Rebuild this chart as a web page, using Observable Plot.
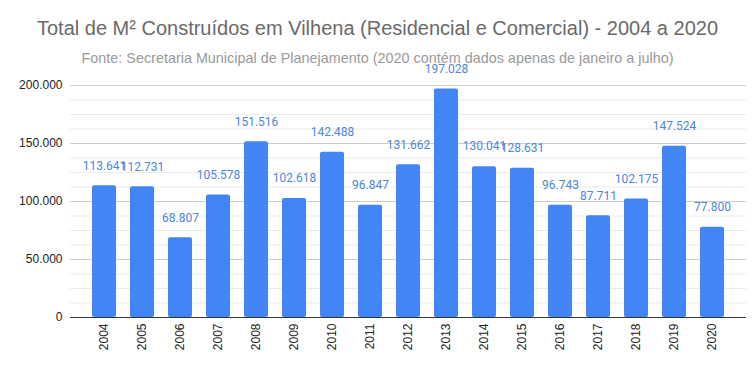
<!DOCTYPE html>
<html>
<head>
<meta charset="utf-8">
<script src="https://cdn.jsdelivr.net/npm/d3@7"></script>
<script src="https://cdn.jsdelivr.net/npm/@observablehq/plot@0.6"></script>
<style>
  html, body { margin: 0; padding: 0; background: #fff; }
  #wrap { position: relative; width: 755px; height: 371px; }
  #title { position: absolute; left: 0; width: 755px; top: 17px; text-align: center;
    font-family: "Liberation Sans", Arial, sans-serif; font-size: 20px; color: #6a6a6a; }
  #subtitle { position: absolute; left: 0; width: 755px; top: 50px; text-align: center;
    font-family: "Liberation Sans", Arial, sans-serif; font-size: 14.4px; color: #9a9a9a; }
  #chart { position: absolute; left: 0; top: 0; }
</style>
</head>
<body>
<div id="wrap">
  <div id="chart"></div>
  <div id="title">Total de M² Construídos em Vilhena (Residencial e Comercial) - 2004 a 2020</div>
  <div id="subtitle">Fonte: Secretaria Municipal de Planejamento (2020 contém dados apenas de janeiro a julho)</div>
</div>
<script>
const years = ["2004","2005","2006","2007","2008","2009","2010","2011","2012","2013","2014","2015","2016","2017","2018","2019","2020"];
const values = [113641, 112731, 68807, 105578, 151516, 102618, 142488, 96847, 131662, 197028, 130041, 128631, 96743, 87711, 102175, 147524, 77800];
const majorTicks = [0, 50000, 100000, 150000, 200000];
const minorTicks = [12500, 25000, 37500, 62500, 75000, 87500, 112500, 125000, 137500, 162500, 175000, 187500];

const data = years.map((y, i) => ({year: y, value: values[i]}));
const fmt = v => d3.format(",")(v).replace(/,/g, ".");

const chart = Plot.plot({
  width: 755,
  height: 371,
  marginTop: 85,
  marginBottom: 54,
  marginLeft: 70,
  marginRight: 9,
  style: {fontFamily: "'Liberation Sans', Arial, sans-serif", fontSize: "12px", color: "#222", overflow: "visible", background: "transparent"},
  x: {domain: years, padding: 0.37, label: null},
  y: {domain: [0, 200000], label: null},
  marks: [
    Plot.ruleY(minorTicks, {stroke: "#ebebeb"}),
    Plot.ruleY(majorTicks.filter(d => d > 0), {stroke: "#cccccc"}),
    Plot.axisY({ticks: majorTicks, tickFormat: fmt, tickSize: 0, tickPadding: 8, fontSize: 12, fill: "#222", label: null}),
    Plot.axisX({tickRotate: -90, tickSize: 0, tickPadding: 6, fontSize: 12, fill: "#222", label: null}),
    Plot.barY(data, {x: "year", y: "value", fill: "#4285f4", rx: 2}),
    Plot.ruleY([0], {stroke: "#333"}),
    Plot.text(data, {x: "year", y: "value", text: d => fmt(d.value), dy: -20, fill: "#4f86d9", fontFamily: "Roboto, sans-serif", fontSize: 12})
  ]
});
document.getElementById("chart").appendChild(chart);
</script>
</body>
</html>
